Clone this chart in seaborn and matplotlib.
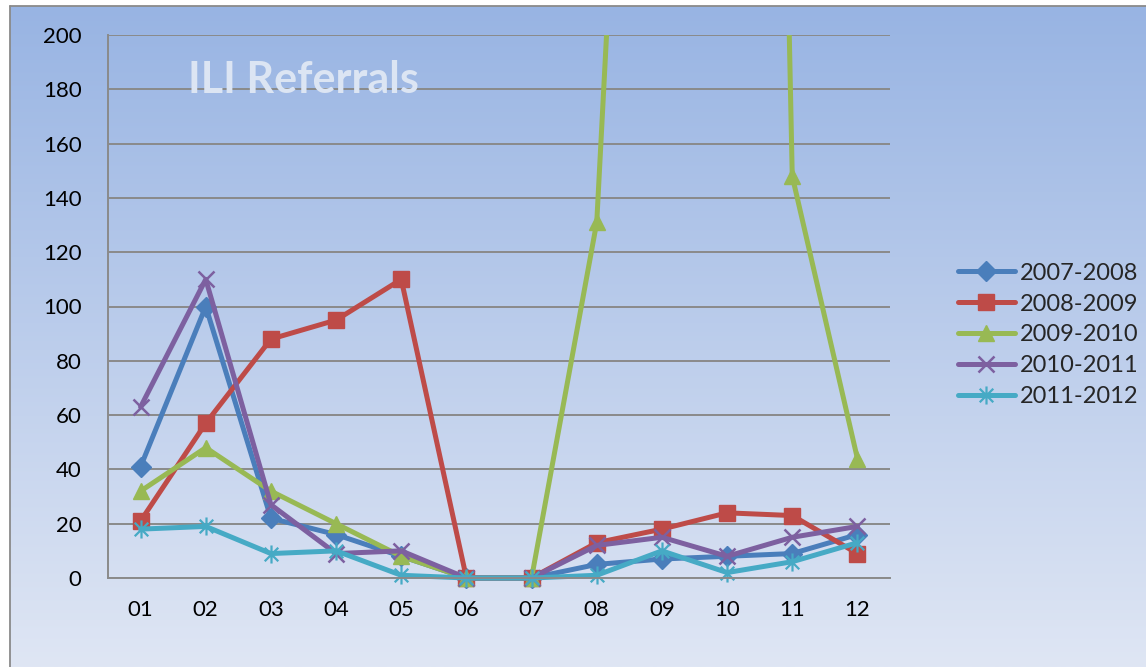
import numpy as np
import pandas as pd
import matplotlib
matplotlib.use("Agg")
import matplotlib.pyplot as plt
from matplotlib.path import Path
from matplotlib.lines import Line2D
from matplotlib.patches import Rectangle
import seaborn as sns

# ---------------- data ----------------
months = ["01", "02", "03", "04", "05", "06", "07", "08", "09", "10", "11", "12"]
s2007_2008 = [41, 100, 22, 16, 8, 0, 0, 5, 7, 8, 9, 16]
s2008_2009 = [21, 57, 88, 95, 110, 0, 0, 13, 18, 24, 23, 9]
s2009_2010 = [32, 48, 32, 20, 8, 0, 0, 131, 590, 1290, 148, 44]
s2010_2011 = [63, 110, 27, 9, 10, 0, 0, 12, 15, 8, 15, 19]
s2011_2012 = [18, 19, 9, 10, 1, 0, 0, 1, 10, 2, 6, 13]
series_names = ["2007-2008", "2008-2009", "2009-2010", "2010-2011", "2011-2012"]
series_values = [s2007_2008, s2008_2009, s2009_2010, s2010_2011, s2011_2012]
title_text = "ILI Referrals"
yticks = [0, 20, 40, 60, 80, 100, 120, 140, 160, 180, 200]

# ---------------- style ----------------
sns.set_style("white")
plt.rcParams["font.family"] = ["Lato", "DejaVu Sans"]

colors = ["#4A7EBB", "#BE4B48", "#98B954", "#7D60A0", "#46AAC5"]

ast = Path([(0, -1), (0, 1), (-0.75, -0.75), (0.75, 0.75), (-0.75, 0.75), (0.75, -0.75)],
           [Path.MOVETO, Path.LINETO, Path.MOVETO, Path.LINETO, Path.MOVETO, Path.LINETO])
marker_specs = [
    dict(marker="D", markersize=10, mfc=colors[0], mec=colors[0], mew=1),
    dict(marker="s", markersize=11, mfc=colors[1], mec=colors[1], mew=1),
    dict(marker="^", markersize=12, mfc=colors[2], mec=colors[2], mew=1),
    dict(marker="x", markersize=11, mfc="none", mec=colors[3], mew=1.8),
    dict(marker=ast, markersize=13, mfc="none", mec=colors[4], mew=1.6),
]

W, H = 1146, 667
fig = plt.figure(figsize=(W / 100, H / 100), dpi=100)
fig.patch.set_facecolor("white")

# gradient background inside the border
bx0, by1 = 10 / W, 1 - 6 / H
bg = fig.add_axes([bx0, 0, 1 - bx0, by1], zorder=-5)
top_c = np.array([0x98, 0xB4, 0xE3]) / 255
bot_c = np.array([0xDF, 0xE6, 0xF4]) / 255
t = np.linspace(0, 1, 256)[:, None]
grad = top_c[None, :] * (1 - t) + bot_c[None, :] * t
bg.imshow(grad[:, None, :], aspect="auto", extent=[0, 1, 0, 1])
bg.set_axis_off()

# border lines
fig.add_artist(Line2D([bx0, bx0], [0, by1], transform=fig.transFigure, color="#8A8A8A", lw=1.3))
fig.add_artist(Line2D([bx0, 1], [by1, by1], transform=fig.transFigure, color="#8A8A8A", lw=1.3))

left, right, bottom, top = 108 / W, 890 / W, 1 - 578 / H, 1 - 35 / H
ax = fig.add_axes([left, bottom, right - left, top - bottom])
ax.patch.set_alpha(0)

xpos = np.arange(len(months))
for name, vals, col, ms in zip(series_names, series_values, colors, marker_specs):
    sns.lineplot(x=xpos, y=vals, ax=ax, color=col, linewidth=3.6, label=name,
                 solid_capstyle="round", solid_joinstyle="round", **ms)
for ln in ax.get_lines():
    ln.set_clip_path(Rectangle((-0.05, -0.06), 1.1, 1.06, transform=ax.transAxes))

ax.set_xlim(-0.5, len(months) - 0.5)
ax.set_ylim(0, 200)
ax.set_yticks(yticks)
ax.set_yticklabels([str(v) for v in yticks])
ax.set_xticks(xpos)
ax.set_xticklabels(months)
ax.set_xticks(np.arange(-0.5, len(months), 1), minor=True)
ax.tick_params(axis="x", which="major", length=0, pad=16, labelsize=16, colors="black")
ax.tick_params(axis="x", which="minor", length=6, width=1.3, color="#8A8A8A", direction="out")
ax.tick_params(axis="y", which="major", length=7, width=1.3, color="#8A8A8A", direction="out",
               pad=12, labelsize=16, labelcolor="black")
ax.yaxis.grid(True, color="#8A8A8A", linewidth=1.4)
ax.xaxis.grid(False)
ax.set_axisbelow(True)
for sp in ["top", "right"]:
    ax.spines[sp].set_visible(False)
for sp in ["left", "bottom"]:
    ax.spines[sp].set_color("#8A8A8A")
    ax.spines[sp].set_linewidth(1.4)
ax.set_xlabel("")
ax.set_ylabel("")

handles, labels = ax.get_legend_handles_labels()
ax.legend_.remove()
fig.legend(handles, labels, loc="center left", bbox_to_anchor=(958 / W, 1 - 335 / H),
           frameon=False, fontsize=17, handlelength=2.4, handletextpad=0.2,
           labelspacing=0.42, borderpad=0, borderaxespad=0)

fig.text(303 / W, 1 - 80 / H, title_text, ha="center", va="center", fontsize=31,
         fontweight="bold", color="#DCE5F3")

fig.savefig("out.png", dpi=100, facecolor=fig.get_facecolor())
